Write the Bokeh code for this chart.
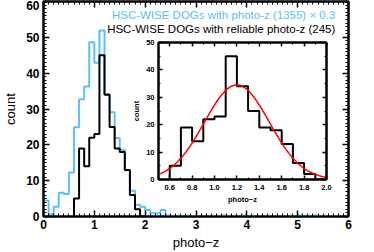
import numpy as np
from bokeh.plotting import figure
from bokeh.models import (LinearAxis, Label, SingleIntervalTicker, FixedTicker,
                          Column, PrintfTickFormatter)
from bokeh.embed import file_html
from bokeh.resources import INLINE

# ---------------- data ----------------
bin_width = 0.1
all_start = 0.0
# HSC-WISE DOGs with photo-z (1355): counts per 0.1 bin from 0.0 to 6.0, plotted x 0.3
all_counts = [15, 2, 9, 22, 21, 41, 83, 109, 121, 162,
              143, 173, 114, 97, 73, 62, 43, 24, 11, 9,
              6, 3, 3, 6, 1, 0, 0, 0, 1, 0,
              0, 0, 0, 0, 0, 1, 0, 0, 0, 1,
              0, 0, 0, 0, 0, 0, 0, 0, 0, 0,
              1, 0, 0, 1, 0, 0, 0, 0, 0, 0]
all_scale = 0.3
# HSC-WISE DOGs with reliable photo-z (245): counts per 0.1 bin from 0.6 to 2.0
rel_start = 0.6
rel_counts = [5, 19, 14, 22, 23, 45, 34, 25, 19, 18, 13, 6, 2, 0]
# Gaussian fit shown in the inset
fit_amp = 34.5
fit_mu = 1.2
fit_sigma = 0.29

legend_all = "HSC-WISE DOGs with photo-z (1355) \u00d7 0.3"
legend_rel = "HSC-WISE DOGs with reliable photo-z (245)"
x_title = "photo\u2212z"
y_title = "count"
inset_x_ticks = [0.6, 0.8, 1.0, 1.2, 1.4, 1.6, 1.8, 2.0]

BLUE = "#5cc0f5"
FONT = "Liberation Sans"


def step_xy(start, counts, scale=1.0):
    vals = np.asarray(counts, dtype=float) * scale
    edges = start + bin_width * np.arange(len(vals) + 1)
    xs = np.concatenate([[edges[0]], edges])
    ys = np.concatenate([[0.0], vals, [0.0]])
    return xs, ys


def style_axis(ax, major_in, minor_in, label_size, bold, show_labels=True):
    ax.axis_line_color = "black"
    ax.axis_line_width = 2
    ax.major_tick_in = major_in
    ax.major_tick_out = 0
    ax.minor_tick_in = minor_in
    ax.minor_tick_out = 0
    ax.major_tick_line_color = "black"
    ax.minor_tick_line_color = "black"
    ax.major_tick_line_width = 1.5
    ax.minor_tick_line_width = 1
    ax.major_label_text_font = FONT
    ax.major_label_text_font_style = "bold" if bold else "normal"
    if show_labels:
        ax.major_label_text_color = "black"
        ax.major_label_text_font_size = label_size
    else:
        ax.major_label_text_color = None
        ax.major_label_text_font_size = "1px"
        ax.major_label_standoff = 0
    ax.axis_label_text_font = FONT
    ax.axis_label_text_font_style = "normal"
    ax.axis_label_text_color = "black"


# ---------------- main figure ----------------
p = figure(width=374, height=252, x_range=(0, 6), y_range=(0, 60),
           output_backend="svg", toolbar_location=None,
           min_border_left=38, min_border_right=26,
           min_border_top=1, min_border_bottom=36)
p.grid.visible = False
p.outline_line_color = "black"
p.outline_line_width = 2

p.xaxis.ticker = SingleIntervalTicker(interval=1, num_minor_ticks=10)
p.yaxis.ticker = SingleIntervalTicker(interval=10, num_minor_ticks=10)
for ax in p.xaxis + p.yaxis:
    style_axis(ax, 6, 3, "12px", True)
p.xaxis.major_label_standoff = 3
p.yaxis.major_label_standoff = 4
p.xaxis.axis_label = x_title
p.yaxis.axis_label = y_title
p.xaxis.axis_label_text_font_size = "13px"
p.yaxis.axis_label_text_font_size = "13px"
p.xaxis.axis_label_standoff = 3
p.yaxis.axis_label_standoff = 5

top_ax = LinearAxis(ticker=SingleIntervalTicker(interval=1, num_minor_ticks=10))
right_ax = LinearAxis(ticker=SingleIntervalTicker(interval=10, num_minor_ticks=10))
style_axis(top_ax, 6, 3, "1px", True, show_labels=False)
style_axis(right_ax, 6, 3, "1px", True, show_labels=False)
p.add_layout(top_ax, "above")
p.add_layout(right_ax, "right")

xa, ya = step_xy(all_start, all_counts, all_scale)
p.step(xa, ya, mode="after", line_color=BLUE, line_width=2)
xr, yr = step_xy(rel_start, rel_counts)
p.step(xr, yr, mode="after", line_color="black", line_width=2)

p.add_layout(Label(x=5.74, y=56.3, text=legend_all, text_align="right",
                   text_baseline="middle", text_font=FONT,
                   text_font_size="11.5px", text_color=BLUE))
p.add_layout(Label(x=5.74, y=52.3, text=legend_rel, text_align="right",
                   text_baseline="middle", text_font=FONT,
                   text_font_size="11.5px", text_color="black"))

# ---------------- inset ----------------
q = figure(width=237, height=168, x_range=(0.5, 2.0), y_range=(0, 50),
           output_backend="svg", toolbar_location=None,
           min_border_left=22, min_border_right=4,
           min_border_top=3, min_border_bottom=28)
q.title.visible = False
q.grid.visible = False
q.outline_line_color = "black"
q.outline_line_width = 2
q.background_fill_color = "white"
q.border_fill_color = None

ix_minor = [round(0.5 + 0.1 * i, 1) for i in range(16)]
q.xaxis.ticker = FixedTicker(ticks=inset_x_ticks, minor_ticks=ix_minor)
q.xaxis.formatter = PrintfTickFormatter(format="%.1f")
q.yaxis.ticker = SingleIntervalTicker(interval=10, num_minor_ticks=2)
for ax in q.xaxis + q.yaxis:
    style_axis(ax, 4, 2, "7.5px", True)
q.xaxis.major_label_standoff = 5
q.yaxis.major_label_standoff = 4
q.xaxis.axis_label = x_title
q.yaxis.axis_label = y_title
for ax in q.xaxis + q.yaxis:
    ax.axis_label_text_font_size = "7.5px"
    ax.axis_label_text_font_style = "bold"
    ax.axis_label_standoff = 2

q_top = LinearAxis(ticker=FixedTicker(ticks=inset_x_ticks, minor_ticks=ix_minor))
q_right = LinearAxis(ticker=SingleIntervalTicker(interval=10, num_minor_ticks=2))
style_axis(q_top, 4, 2, "1px", True, show_labels=False)
style_axis(q_right, 4, 2, "1px", True, show_labels=False)
q.add_layout(q_top, "above")
q.add_layout(q_right, "right")

q.step(xr, yr, mode="after", line_color="black", line_width=2)
gx = np.linspace(0.5, 2.0, 200)
gy = fit_amp * np.exp(-0.5 * ((gx - fit_mu) / fit_sigma) ** 2)
q.line(gx, gy, line_color="red", line_width=1.5)

q.styles = {"position": "absolute", "left": "115px", "top": "39px"}

root = Column(children=[p, q], styles={"position": "relative"})

open("out.html", "w").write(file_html(root, INLINE))
